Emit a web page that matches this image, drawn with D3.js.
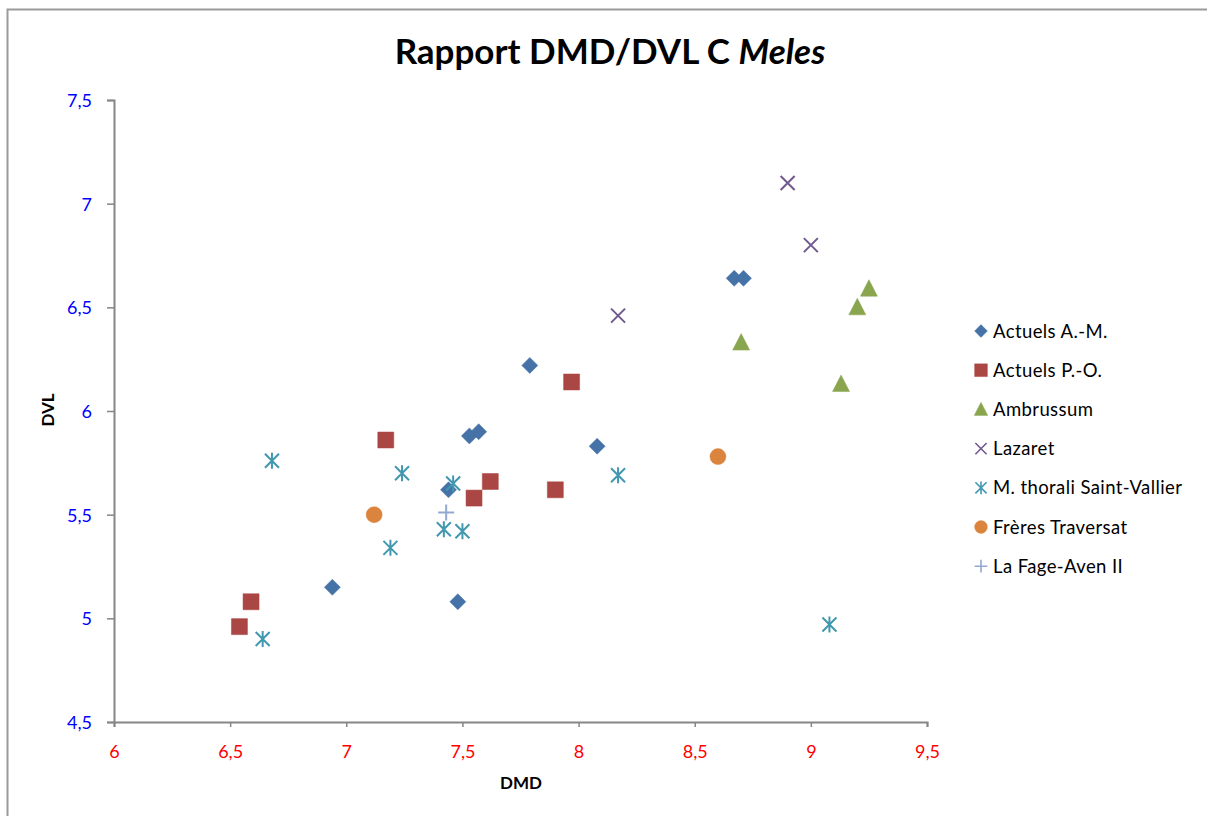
<!DOCTYPE html>
<html><head><meta charset="utf-8">
<script src="https://cdn.jsdelivr.net/npm/d3@7"></script>
<style>html,body{margin:0;padding:0;background:#fff;}svg{display:block;}</style>
</head><body>
<svg id="c" width="1207" height="816"></svg>
<script>
const seriesNames = ["Actuels A.-M.","Actuels P.-O.","Ambrussum","Lazaret","M. thorali Saint-Vallier","Frères Traversat","La Fage-Aven II"];
const seriesColors = ["#4572A7","#AA4643","#89A54E","#71588F","#4198AF","#DB843D","#93A9CF"];
const seriesShapes = ["diamond","square","triangle","x","star","circle","plus"];
const actuelsAM_dmd = [6.94,7.44,7.48,7.53,7.57,7.79,8.08,8.67,8.71];
const actuelsAM_dvl = [5.15,5.62,5.08,5.88,5.90,6.22,5.83,6.64,6.64];
const actuelsPO_dmd = [6.54,6.59,7.17,7.55,7.62,7.90,7.97];
const actuelsPO_dvl = [4.96,5.08,5.86,5.58,5.66,5.62,6.14];
const ambrussum_dmd = [8.70,9.13,9.20,9.25];
const ambrussum_dvl = [6.33,6.13,6.50,6.59];
const lazaret_dmd = [8.17,8.90,9.00];
const lazaret_dvl = [6.46,7.10,6.80];
const thorali_dmd = [6.64,6.68,7.19,7.24,7.42,7.46,7.50,8.17,9.08];
const thorali_dvl = [4.90,5.76,5.34,5.70,5.43,5.65,5.42,5.69,4.97];
const traversat_dmd = [7.12,8.60];
const traversat_dvl = [5.50,5.78];
const lafage_dmd = [7.43];
const lafage_dvl = [5.51];
const xTicks = [6,6.5,7,7.5,8,8.5,9,9.5];
const yTicks = [4.5,5,5.5,6,6.5,7,7.5];

const allX = [actuelsAM_dmd,actuelsPO_dmd,ambrussum_dmd,lazaret_dmd,thorali_dmd,traversat_dmd,lafage_dmd];
const allY = [actuelsAM_dvl,actuelsPO_dvl,ambrussum_dvl,lazaret_dvl,thorali_dvl,traversat_dvl,lafage_dvl];
const series = seriesNames.map((n,i)=>({name:n,color:seriesColors[i],shape:seriesShapes[i],
  pts:allX[i].map((x,j)=>({x:x,y:allY[i][j]}))}));

const svg = d3.select("#c");
const font = "Lato, 'Open Sans', sans-serif";
// outer border
svg.append("path").attr("d","M7.5,816 V9.5 H1207").attr("fill","none").attr("stroke","#9a9a9a").attr("stroke-width",2);

const x = d3.scaleLinear().domain([6,9.5]).range([114,927]);
const y = d3.scaleLinear().domain([4.5,7.5]).range([722,100]);

const fmt = d => String(d).replace(".",",");

const gx = svg.append("g").attr("transform","translate(0,722)")
  .call(d3.axisBottom(x).tickValues(xTicks).tickFormat(fmt).tickSize(5));
const gy = svg.append("g").attr("transform","translate(114,0)")
  .call(d3.axisLeft(y).tickValues(yTicks).tickFormat(fmt).tickSize(7));
[gx,gy].forEach(g=>{
  g.select(".domain").attr("stroke","#868686").attr("stroke-width",2);
  g.selectAll(".tick line").attr("stroke","#868686").attr("stroke-width",1.5);
  g.selectAll(".tick text").attr("font-family",font).attr("font-size",18);
});
gx.selectAll(".tick text").attr("fill","#FF0000").attr("y",36).attr("dy",0);
gy.selectAll(".tick text").attr("fill","#0000FF").attr("x",-22).attr("dy","0.36em");

// titles
svg.append("text").attr("x",610).attr("y",64).attr("text-anchor","middle")
  .attr("font-family",font).attr("font-weight","bold").attr("font-size",35).attr("fill","#000")
  .call(t=>{t.append("tspan").text("Rapport DMD/DVL C ");t.append("tspan").attr("font-style","italic").text("Meles");});
svg.append("text").attr("x",521).attr("y",789).attr("text-anchor","middle")
  .attr("font-family",font).attr("font-weight","bold").attr("font-size",17).text("DMD");
svg.append("text").attr("transform","translate(54,410) rotate(-90)").attr("text-anchor","middle")
  .attr("font-family",font).attr("font-weight","bold").attr("font-size",17).text("DVL");

function shapePath(s){
  switch(s){
    case "diamond": return "M0,-8L8,0L0,8L-8,0Z";
    case "square": return "M-8,-8H8V8H-8Z";
    case "triangle": return "M0,-9L8.5,7.5H-8.5Z";
    case "x": return "M-7,-7L7,7M-7,7L7,-7";
    case "star": return "M-7,-7L7,7M-7,7L7,-7M0,-8V8";
    case "circle": return "M8,0A8,8 0 1,1 -8,0A8,8 0 1,1 8,0Z";
    case "plus": return "M-8,0H8M0,-8V8";
  }
}
function drawMarker(g,s,color){
  const open = (s==="x"||s==="star"||s==="plus");
  g.append("path").attr("d",shapePath(s))
    .attr("fill",open?"none":color).attr("stroke",color)
    .attr("stroke-width",open?2:0.5);
}

series.forEach(se=>{
  const g = svg.append("g");
  se.pts.forEach(p=>{
    const m = g.append("g").attr("transform",`translate(${x(p.x)},${y(p.y)})`);
    drawMarker(m,se.shape,se.color);
  });
});

// legend
const lg = svg.append("g");
series.forEach((se,i)=>{
  const yy = 331 + i*39.2;
  const m = lg.append("g").attr("transform",`translate(981,${yy}) scale(0.8)`);
  drawMarker(m,se.shape,se.color);
  lg.append("text").attr("x",993).attr("y",yy).attr("dy","0.36em")
    .attr("font-family",font).attr("font-size",18.5).attr("letter-spacing",0.4).attr("fill","#000").text(se.name);
});
</script>
</body></html>
